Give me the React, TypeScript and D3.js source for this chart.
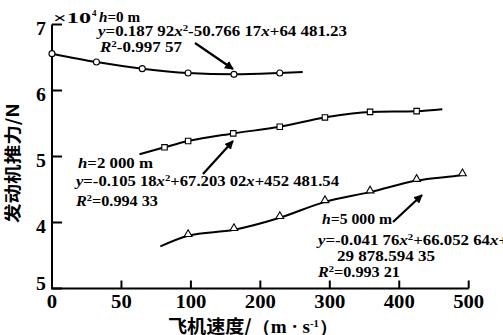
import React from 'react';
import * as d3 from 'd3';

// axis ticks as printed in the figure (x axis is not evenly scaled)
const xTicks = [0, 50, 100, 200, 300, 400, 500];
const yTicks = [30000, 40000, 50000, 60000, 70000];
const yTickLabels = ['5', '4', '5', '6', '7'];

// h = 0 m (circles)
const h0Speed = [0, 32, 65, 98, 162, 228];
const h0Thrust = [65580, 64310, 63310, 62650, 62450, 62650];
const h0LineEnd = [261, 62800];

// h = 2 000 m (squares)
const h2Speed = [81, 98, 161, 228, 293, 358, 425];
const h2Thrust = [51390, 52340, 53500, 54500, 55920, 56760, 56870];
const h2LineStart = [63, 50330];
const h2LineEnd = [462, 57170];

// h = 5 000 m (triangles)
const h5Speed = [98, 162, 228, 293, 358, 425, 491];
const h5Thrust = [38000, 38900, 40720, 43130, 44600, 46350, 47200];
const h5LineStart = [78, 36380];
const h5LineEnd = [494, 47250];

const W = 503;
const H = 335;
const X0 = 52;
const STEP = 69.45;
const serif = '"Liberation Serif", "Times New Roman", serif';
const cjk = '"Noto Sans CJK SC", sans-serif';

const x = d3.scaleLinear().domain(xTicks).range(xTicks.map((_, i) => X0 + i * STEP));
const y = d3.scaleLinear().domain([30000, 70000]).range([288.5, 24.5]);

const line = d3.line<number[]>()
  .x(d => x(d[0]))
  .y(d => y(d[1]))
  .curve(d3.curveMonotoneX);

const zip = (a: number[], b: number[]) => a.map((v, i) => [v, b[i]]);

const sq = d3.symbol(d3.symbolSquare, 30)();
const tri = d3.symbol(d3.symbolTriangle, 26)();

const I = ({ t }: { t: string }) => <tspan fontStyle="italic">{t}</tspan>;

// "<i>y</i>=a<i>x</i>²b<i>x</i>c" style equation
const Eq = ({ a, b, c }: { a: string; b: string; c: string }) => (
  <>
    <I t="y" />{a}<I t="x" />
    <tspan dy={-5} fontSize="9">2</tspan>
    <tspan dy={5}>{b}</tspan><I t="x" />{c}
  </>
);

const R2 = ({ v }: { v: string }) => (
  <>
    <I t="R" />
    <tspan dy={-5} fontSize="9">2</tspan>
    <tspan dy={5}>{v}</tspan>
  </>
);

export default function App() {
  const h0 = zip(h0Speed, h0Thrust);
  const h2 = zip(h2Speed, h2Thrust);
  const h5 = zip(h5Speed, h5Thrust);

  const arrows = [
    [195, 43, 233, 69],
    [203, 174, 233, 141],
    [393, 222, 422, 195],
  ];

  return (
    <svg width={W} height={H} style={{ position: 'absolute', left: 0, top: 0, background: '#fff' }}
      fontFamily={serif} fontWeight="bold">
      <defs>
        <marker id="ah" viewBox="0 0 10 10" refX="9" refY="5" markerWidth="4" markerHeight="4"
          orient="auto" markerUnits="strokeWidth">
          <path d="M0,0 L10,5 L0,10 z" fill="#000" />
        </marker>
      </defs>
      <rect width={W} height={H} fill="#fff" />

      {/* axes */}
      <path d={`M${X0},${y(70000)}V${y(30000)}H${x(500)}`} fill="none" stroke="#000" strokeWidth={2} />
      {xTicks.map(t => (
        <g key={'xt' + t}>
          <line x1={x(t)} x2={x(t)} y1={y(30000)} y2={y(30000) - 8} stroke="#000" strokeWidth={2} />
          <text transform={`translate(${x(t)},308) scale(1.15,1)`} textAnchor="middle" fontSize="18">{t}</text>
        </g>
      ))}
      {yTicks.map((t, i) => (
        <g key={'yt' + t}>
          <line x1={X0} x2={X0 + 10} y1={y(t)} y2={y(t)} stroke="#000" strokeWidth={2} />
          <text transform={`translate(46,${y(t) + (i === 0 ? 1 : 10)}) scale(1.1,1)`} textAnchor="end" fontSize="18">
            {yTickLabels[i]}
          </text>
        </g>
      ))}
      <text x={53} y={23} fontSize="15" textLength={38} lengthAdjust="spacingAndGlyphs">×10</text>
      <text x={92} y={16} fontSize="9">4</text>

      {/* fitted curves */}
      <path d={line([...h0, h0LineEnd]) || ''} fill="none" stroke="#000" strokeWidth={2} />
      <path d={line([h2LineStart, ...h2, h2LineEnd]) || ''} fill="none" stroke="#000" strokeWidth={2} />
      <path d={line([h5LineStart, ...h5, h5LineEnd]) || ''} fill="none" stroke="#000" strokeWidth={2} />

      {/* markers */}
      {h0.map((d, i) => (
        <circle key={'c' + i} cx={x(d[0])} cy={y(d[1])} r={3} fill="#fff" stroke="#000" strokeWidth={1.1} />
      ))}
      {h2.map((d, i) => (
        <path key={'s' + i} d={sq || ''} transform={`translate(${x(d[0])},${y(d[1])})`}
          fill="#fff" stroke="#000" strokeWidth={1.1} />
      ))}
      {h5.map((d, i) => (
        <path key={'t' + i} d={tri || ''} transform={`translate(${x(d[0])},${y(d[1]) - 1.5})`}
          fill="#fff" stroke="#000" strokeWidth={1.1} />
      ))}

      {/* arrows */}
      {arrows.map((a, i) => (
        <line key={'a' + i} x1={a[0]} y1={a[1]} x2={a[2]} y2={a[3]} stroke="#000" strokeWidth={2.2}
          markerEnd="url(#ah)" />
      ))}

      {/* annotations */}
      <g fontSize="14">
        <text x={99} y={22} textLength={41} lengthAdjust="spacingAndGlyphs"><I t="h" />=0 m</text>
        <text x={98} y={36} textLength={249} lengthAdjust="spacingAndGlyphs">
          <Eq a="=0.187 92" b="-50.766 17" c="+64 481.23" />
        </text>
        <text x={100} y={52} textLength={82} lengthAdjust="spacingAndGlyphs">
          <R2 v="-0.997 57" />
        </text>

        <text x={78} y={168} textLength={75} lengthAdjust="spacingAndGlyphs"><I t="h" />=2 000 m</text>
        <text x={76} y={186} textLength={263} lengthAdjust="spacingAndGlyphs">
          <Eq a="=-0.105 18" b="+67.203 02" c="+452 481.54" />
        </text>
        <text x={76} y={206} textLength={82} lengthAdjust="spacingAndGlyphs">
          <R2 v="=0.994 33" />
        </text>

        <text x={322} y={224} textLength={70} lengthAdjust="spacingAndGlyphs"><I t="h" />=5 000 m</text>
        <text x={318} y={245} textLength={190} lengthAdjust="spacingAndGlyphs">
          <Eq a="=-0.041 76" b="+66.052 64" c="+" />
        </text>
        <text x={337} y={261} textLength={98} lengthAdjust="spacingAndGlyphs">29 878.594 35</text>
        <text x={318} y={277} textLength={82} lengthAdjust="spacingAndGlyphs">
          <R2 v="=0.993 21" />
        </text>
      </g>

      {/* axis titles */}
      <text transform="translate(19,163) rotate(-90)" textAnchor="middle" fontSize="17"
        fontFamily={cjk} fontWeight="bold" textLength={120} lengthAdjust="spacingAndGlyphs">
        发动机推力/N
      </text>
      <text x={168} y={333} fontSize="18" fontFamily={cjk} fontWeight="bold"
        textLength={170} lengthAdjust="spacingAndGlyphs">
        飞机速度/<tspan fontFamily={serif}>（m · s<tspan dy={-6} fontSize="10">-1</tspan><tspan dy={6}>）</tspan></tspan>
      </text>
    </svg>
  );
}
